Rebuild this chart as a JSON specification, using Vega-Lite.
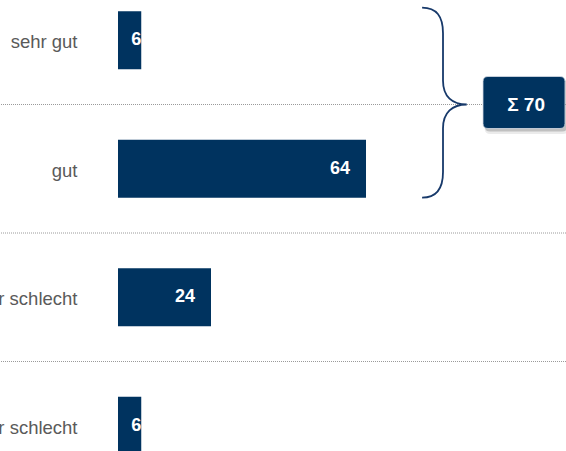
{
  "$schema": "https://vega.github.io/schema/vega-lite/v6.json",
  "width": 566,
  "height": 514,
  "autosize": {"type": "none"},
  "padding": {"left": 0, "right": 0, "top": -24, "bottom": -39},
  "background": "white",
  "config": {"view": {"stroke": null}, "font": "Liberation Sans"},
  "datasets": {
    "bars": [
      {"cat": "sehr gut", "value": 6},
      {"cat": "gut", "value": 64},
      {"cat": "eher schlecht", "value": 24},
      {"cat": "sehr schlecht", "value": 6}
    ],
    "sum": [{"cat": "gut", "label": "Σ 70"}]
  },
  "data": {"name": "bars"},
  "layer": [
    {
      "transform": [{"filter": "datum.cat != 'sehr gut'"}],
      "mark": {"type": "rule", "strokeDash": [1, 1], "color": "#9a9a9a", "strokeWidth": 1},
      "encoding": {
        "y": {"field": "cat", "type": "nominal", "sort": null, "bandPosition": 0}
      }
    },
    {
      "mark": {"type": "bar", "height": {"band": 0.45}, "color": "#00335f"},
      "encoding": {
        "y": {
          "field": "cat", "type": "nominal", "sort": null,
          "scale": {"domain": ["sehr gut", "gut", "eher schlecht", "sehr schlecht"], "paddingInner": 0, "paddingOuter": 0},
          "axis": {"title": null, "domain": false, "ticks": false, "tickSize": 0, "grid": false, "labelPadding": -77, "labelOffset": 2, "labelFontSize": 18.5, "labelColor": "#5a5a5a", "labelFont": "Liberation Sans", "labelLimit": 0}
        },
        "x": {"field": "value", "type": "quantitative", "scale": {"domain": [-30.45, 115.61], "nice": false, "zero": false}, "axis": null},
        "x2": {"datum": 0}
      }
    },
    {
      "transform": [{"filter": "datum.value >= 10"}],
      "mark": {"type": "text", "align": "right", "baseline": "middle", "dx": -16, "color": "white", "fontWeight": "bold", "fontSize": 18},
      "encoding": {
        "y": {"field": "cat", "type": "nominal", "sort": null},
        "x": {"field": "value", "type": "quantitative"},
        "text": {"field": "value", "type": "quantitative"}
      }
    },
    {
      "transform": [{"filter": "datum.value < 10"}],
      "mark": {"type": "text", "align": "right", "baseline": "middle", "dx": 0, "color": "white", "fontWeight": "bold", "fontSize": 18},
      "encoding": {
        "y": {"field": "cat", "type": "nominal", "sort": null},
        "x": {"field": "value", "type": "quantitative"},
        "text": {"field": "value", "type": "quantitative"}
      }
    },
    {
      "data": {"name": "sum"},
      "mark": {"type": "point", "shape": "M -0.22 -1.02 C -0.07 -1.02 0 -0.93 0 -0.75 L 0 -0.25 C 0 -0.08 0.1 0 0.25 0 C 0.1 0 0 0.08 0 0.25 L 0 0.71 C 0 0.89 -0.07 0.98 -0.22 0.98", "filled": false, "stroke": "#17396a", "strokeWidth": 1.8, "size": 36100, "opacity": 1},
      "encoding": {
        "x": {"datum": 83.87, "type": "quantitative"},
        "y": {"field": "cat", "type": "nominal", "sort": null, "bandPosition": 0}
      }
    },
    {
      "data": {"name": "sum"},
      "mark": {"type": "point", "shape": "M -0.82 -0.6 L 0.96 -0.6 Q 1.1 -0.6 1.1 -0.46 L 1.1 0.58 Q 1.1 0.72 0.96 0.72 L -0.82 0.72 Q -0.96 0.72 -0.96 0.58 L -0.96 -0.46 Q -0.96 -0.6 -0.82 -0.6 Z", "filled": true, "fill": "#000000", "fillOpacity": 0.08, "strokeWidth": 0, "size": 6724, "opacity": 1},
      "encoding": {
        "x": {"datum": 104.77, "type": "quantitative"},
        "y": {"field": "cat", "type": "nominal", "sort": null, "bandPosition": 0}
      }
    },
    {
      "data": {"name": "sum"},
      "mark": {"type": "point", "shape": "M -0.83 -0.61 L 0.93 -0.61 Q 1.05 -0.61 1.05 -0.49 L 1.05 0.54 Q 1.05 0.66 0.93 0.66 L -0.83 0.66 Q -0.95 0.66 -0.95 0.54 L -0.95 -0.49 Q -0.95 -0.61 -0.83 -0.61 Z", "filled": true, "fill": "#000000", "fillOpacity": 0.18, "strokeWidth": 0, "size": 6724, "opacity": 1},
      "encoding": {
        "x": {"datum": 104.77, "type": "quantitative"},
        "y": {"field": "cat", "type": "nominal", "sort": null, "bandPosition": 0}
      }
    },
    {
      "data": {"name": "sum"},
      "mark": {"type": "point", "shape": "M -0.878 -0.683 L 0.878 -0.683 Q 1 -0.683 1 -0.561 L 1 0.463 Q 1 0.585 0.878 0.585 L -0.878 0.585 Q -1 0.585 -1 0.463 L -1 -0.561 Q -1 -0.683 -0.878 -0.683 Z", "filled": true, "fill": "#00335f", "stroke": "#d8dde6", "strokeWidth": 0.8, "size": 6724, "opacity": 1},
      "encoding": {
        "x": {"datum": 104.77, "type": "quantitative"},
        "y": {"field": "cat", "type": "nominal", "sort": null, "bandPosition": 0}
      }
    },
    {
      "data": {"name": "sum"},
      "mark": {"type": "text", "align": "center", "baseline": "middle", "color": "white", "fontWeight": "bold", "fontSize": 19},
      "encoding": {
        "x": {"datum": 105.3, "type": "quantitative"},
        "y": {"field": "cat", "type": "nominal", "sort": null, "bandPosition": 0},
        "text": {"field": "label", "type": "nominal"}
      }
    }
  ]
}
